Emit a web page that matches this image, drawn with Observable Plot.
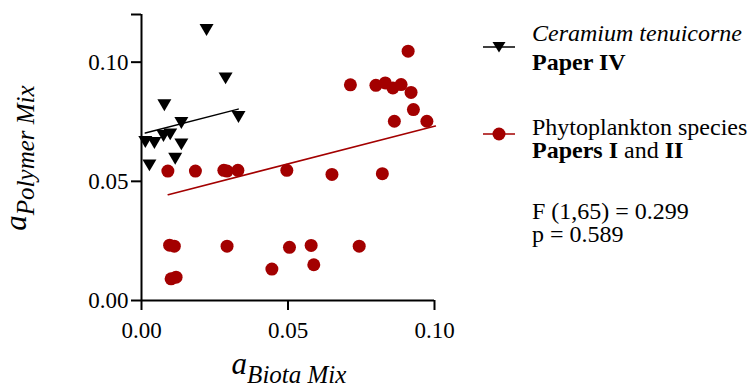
<!DOCTYPE html>
<html>
<head>
<meta charset="utf-8">
<script src="https://cdn.jsdelivr.net/npm/d3@7"></script>
<script src="https://cdn.jsdelivr.net/npm/@observablehq/plot@0.6"></script>
<style>
  html, body { margin: 0; padding: 0; background: #fff; }
  #chart svg { display: block; }
  #chart svg, #chart svg text, #chart svg tspan { font-family: "Liberation Serif", "Times New Roman", serif !important; }
</style>
</head>
<body>
<div id="chart"></div>
<script>
// Ceramium tenuicorne (Paper IV)
const ceramiumX = [0.0222, 0.0287, 0.0078, 0.0136, 0.0331, 0.0013, 0.0044, 0.0075, 0.0098, 0.0136, 0.0115, 0.0027];
const ceramiumY = [0.1135, 0.0932, 0.0819, 0.0745, 0.0770, 0.0665, 0.0661, 0.0690, 0.0697, 0.0655, 0.0595, 0.0567];
// Phytoplankton species (Papers I and II)
const phytoX = [0.0090, 0.0184, 0.0281, 0.0292, 0.0329, 0.0096, 0.0112, 0.0292, 0.0101, 0.0118,
                0.0713, 0.0800, 0.0832, 0.0858, 0.0886, 0.0920, 0.0928, 0.0863, 0.0974,
                0.0496, 0.0650, 0.0822, 0.0505, 0.0579, 0.0743, 0.0445, 0.0588, 0.0910];
const phytoY = [0.0543, 0.0543, 0.0546, 0.0543, 0.0546, 0.0232, 0.0228, 0.0228, 0.0091, 0.0098,
                0.0905, 0.0903, 0.0913, 0.0892, 0.0906, 0.0873, 0.0801, 0.0752, 0.0752,
                0.0546, 0.0529, 0.0532, 0.0223, 0.0231, 0.0228, 0.0132, 0.0150, 0.1046];
// Fitted lines (endpoints)
const ceramiumFitX = [0.0013, 0.0330];
const ceramiumFitY = [0.0703, 0.0803];
const phytoFitX = [0.0091, 0.1003];
const phytoFitY = [0.0444, 0.0732];
// Ticks
const xTicks = [0, 0.05, 0.10];
const xTickLabels = ["0.00", "0.05", "0.10"];
const yTicks = [0, 0.05, 0.10, 0.12];
const yTickLabels = ["0.00", "0.05", "0.10", ""];
// Legend / stats text
const seriesNames = ["Ceramium tenuicorne", "Phytoplankton species"];
const statsLines = ["F (1,65) = 0.299", "p = 0.589"];

const RED = "#a30000";
const FONT = "Liberation Serif";

const ceramium = ceramiumX.map((x, i) => ({x, y: ceramiumY[i]}));
const phyto = phytoX.map((x, i) => ({x, y: phytoY[i]}));
const ceramiumFit = ceramiumFitX.map((x, i) => ({x, y: ceramiumFitY[i]}));
const phytoFit = phytoFitX.map((x, i) => ({x, y: phytoFitY[i]}));

const downTriangle = {
  draw(context, size) {
    const r = Math.sqrt(size / Math.PI);
    context.moveTo(-r, -r * 0.85);
    context.lineTo(r, -r * 0.85);
    context.lineTo(0, r * 0.85);
    context.closePath();
  }
};

const chart = Plot.plot({
  width: 753,
  height: 385,
  marginLeft: 141,
  marginRight: 319,
  marginTop: 14,
  marginBottom: 85,
  x: {domain: [0, 0.1]},
  y: {domain: [0, 0.12]},
  style: {fontFamily: FONT, fontSize: "23px", color: "black", background: "white", overflow: "visible"},
  marks: [
    Plot.axisX({ticks: xTicks, tickFormat: d => xTickLabels[xTicks.indexOf(d)], tickSize: 10, tickPadding: 11, strokeWidth: 2, label: null, fontSize: 23, fontFamily: FONT}),
    Plot.axisY({ticks: yTicks, tickFormat: d => yTickLabels[yTicks.indexOf(d)], tickSize: 10, tickPadding: 3, strokeWidth: 2, label: null, fontSize: 23, fontFamily: FONT}),
    Plot.ruleY([0], {stroke: "black", strokeWidth: 2}),
    Plot.ruleX([0], {stroke: "black", strokeWidth: 2}),
    Plot.line(ceramiumFit, {x: "x", y: "y", stroke: "black", strokeWidth: 1.5}),
    Plot.line(phytoFit, {x: "x", y: "y", stroke: RED, strokeWidth: 1.5}),
    Plot.dot(phyto, {x: "x", y: "y", r: 6.5, fill: RED, stroke: "none"}),
    Plot.dot(ceramium, {x: "x", y: "y", r: 7, fill: "black", stroke: "none", symbol: downTriangle})
  ]
});

document.getElementById("chart").appendChild(chart);
const svg = d3.select(chart);
const g = svg.append("g").attr("fill", "black").attr("text-anchor", "start");

// Axis titles
const xt = g.append("text").attr("x", 289).attr("y", 374).attr("text-anchor", "middle").attr("font-style", "italic");
xt.append("tspan").attr("font-size", 31).text("a");
xt.append("tspan").attr("font-size", 25).attr("dy", 9).text("Biota Mix");

const yt = g.append("text").attr("transform", "translate(26,158) rotate(-90)").attr("text-anchor", "middle").attr("font-style", "italic");
yt.append("tspan").attr("font-size", 31).text("a");
yt.append("tspan").attr("font-size", 25).attr("dy", 8).text("Polymer Mix");

// Legend
g.append("line").attr("x1", 483).attr("x2", 515).attr("y1", 47).attr("y2", 47).attr("stroke", "black").attr("stroke-width", 1.5);
g.append("path").attr("transform", "translate(499,47)").attr("d", "M-6.5,-5L6.5,-5L0,5.5Z").attr("fill", "black");
g.append("text").attr("x", 532).attr("y", 41).attr("font-size", 24).attr("font-style", "italic").text(seriesNames[0]);
const p4 = g.append("text").attr("x", 532).attr("y", 70).attr("font-size", 24);
p4.append("tspan").attr("font-weight", "bold").text("Paper IV");

g.append("line").attr("x1", 483).attr("x2", 515).attr("y1", 134).attr("y2", 134).attr("stroke", RED).attr("stroke-width", 1.5);
g.append("circle").attr("cx", 499).attr("cy", 134).attr("r", 6.5).attr("fill", RED);
g.append("text").attr("x", 532).attr("y", 135).attr("font-size", 24).text(seriesNames[1]);
const p12 = g.append("text").attr("x", 532).attr("y", 158).attr("font-size", 24);
p12.append("tspan").attr("font-weight", "bold").text("Papers I");
p12.append("tspan").text(" and ");
p12.append("tspan").attr("font-weight", "bold").text("II");

g.append("text").attr("x", 532).attr("y", 219).attr("font-size", 24).text(statsLines[0]);
g.append("text").attr("x", 532).attr("y", 242).attr("font-size", 24).text(statsLines[1]);
</script>
</body>
</html>
